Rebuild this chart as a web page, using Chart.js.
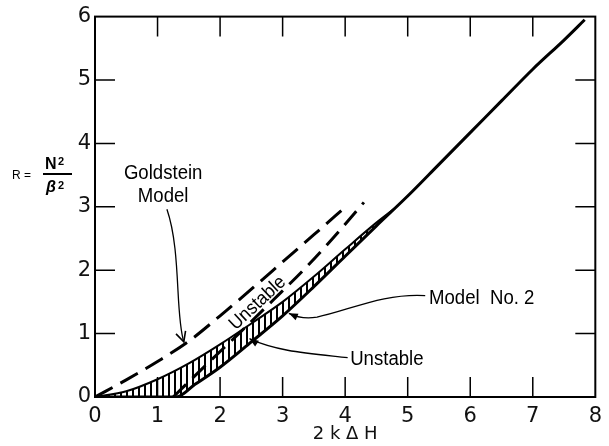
<!DOCTYPE html>
<html>
<head>
<meta charset="utf-8">
<script src="https://cdn.jsdelivr.net/npm/chart.js@4/dist/chart.umd.min.js"></script>
<style>
  html, body { margin: 0; padding: 0; background: #fff; }
  #c { display: block; }
</style>
</head>
<body>
<canvas id="c" width="609" height="446"></canvas>
<script>
// Axis ranges and tick labels
const xTicks = [0, 1, 2, 3, 4, 5, 6, 7, 8];
const yTicks = [0, 1, 2, 3, 4, 5, 6];

// Model No. 2 neutral curve (solid)
const modelX = [0, 1.3, 1.6, 2.0, 2.5, 3.0, 3.5, 4.0, 4.5, 5.0, 5.5, 6.0, 6.5, 7.0, 7.5, 7.83];
const modelR = [0, 0, 0.2, 0.47, 0.87, 1.28, 1.74, 2.22, 2.7, 3.17, 3.67, 4.17, 4.67, 5.17, 5.63, 5.95];

// Upper edge of the hatched unstable band
const bandX = [0, 0.5, 1.0, 1.5, 2.0, 2.5, 3.0, 3.5, 4.0, 4.5, 4.8];
const bandR = [0, 0.09, 0.28, 0.53, 0.83, 1.16, 1.5, 1.9, 2.33, 2.75, 2.98];

// Goldstein model (dashed)
const goldX = [0, 0.5, 1.0, 1.5, 2.0, 2.5, 3.0, 3.5, 4.02];
const goldR = [0, 0.27, 0.56, 0.88, 1.28, 1.7, 2.13, 2.56, 3.01];

// Second dashed boundary
const dash2X = [1.25, 1.77, 2.3, 2.85, 3.35, 3.8, 4.3];
const dash2R = [0, 0.5, 1.0, 1.53, 2.02, 2.5, 3.07];

const pts = (xs, ys) => xs.map((x, i) => ({ x: x, y: ys[i] }));

// Vertical hatching used to fill the unstable band
const pc = document.createElement('canvas');
pc.width = 6; pc.height = 6;
const pg = pc.getContext('2d');
pg.fillStyle = '#000';
pg.fillRect(0, 0, 2, 6);
const hatch = pg.createPattern(pc, 'repeat');

const TEXT_FONT = 'Liberation Sans, Arial, sans-serif';

function condensedText(ctx, str, x, y, size, align, sx) {
  ctx.save();
  ctx.font = size + 'px ' + TEXT_FONT;
  ctx.translate(x, y);
  ctx.scale(sx || 0.93, 1);
  ctx.textAlign = align || 'left';
  ctx.textBaseline = 'alphabetic';
  ctx.fillText(str, 0, 0);
  ctx.restore();
}

function arrowHead(ctx, tipX, tipY, fromX, fromY, len, half, filled) {
  const a = Math.atan2(tipY - fromY, tipX - fromX);
  const bx = tipX - len * Math.cos(a), by = tipY - len * Math.sin(a);
  const nx = -Math.sin(a) * half, ny = Math.cos(a) * half;
  ctx.beginPath();
  ctx.moveTo(bx + nx, by + ny);
  ctx.lineTo(tipX, tipY);
  ctx.lineTo(bx - nx, by - ny);
  if (filled) { ctx.closePath(); ctx.fill(); } else { ctx.stroke(); }
}

// Frame, inward tick marks, axis title and callouts
const decorations = {
  id: 'decorations',
  afterDraw(chart) {
    const { ctx, chartArea: a, scales } = chart;
    const xs = scales.x, ys = scales.y;
    const X = v => xs.getPixelForValue(v);
    const Y = v => ys.getPixelForValue(v);
    ctx.save();
    ctx.strokeStyle = '#000';
    ctx.fillStyle = '#000';

    // frame
    ctx.lineWidth = 2;
    ctx.strokeRect(a.left, a.top, a.right - a.left, a.bottom - a.top);

    // inward ticks on all four sides
    const TL = 20;
    ctx.lineWidth = 1.5;
    ctx.beginPath();
    xs.ticks.forEach(t => {
      if (t.value <= xs.min || t.value >= xs.max) return;
      const px = X(t.value);
      ctx.moveTo(px, a.bottom); ctx.lineTo(px, a.bottom - TL);
      ctx.moveTo(px, a.top); ctx.lineTo(px, a.top + TL);
    });
    ys.ticks.forEach(t => {
      if (t.value <= ys.min || t.value >= ys.max) return;
      const py = Y(t.value);
      ctx.moveTo(a.left, py); ctx.lineTo(a.left + TL, py);
      ctx.moveTo(a.right, py); ctx.lineTo(a.right - TL, py);
    });
    ctx.stroke();

    // y axis title: R = N^2 / beta^2
    ctx.textBaseline = 'middle';
    ctx.textAlign = 'left';
    ctx.font = '12px ' + TEXT_FONT;
    ctx.fillText('R =', 12, 176);
    ctx.textBaseline = 'alphabetic';
    ctx.font = 'bold 16px ' + TEXT_FONT;
    ctx.fillText('N', 45, 169);
    ctx.font = 'bold 11px ' + TEXT_FONT;
    ctx.fillText('2', 58, 165);
    ctx.lineWidth = 2;
    ctx.beginPath(); ctx.moveTo(43, 174); ctx.lineTo(72, 174); ctx.stroke();
    ctx.font = 'italic bold 16px ' + TEXT_FONT;
    ctx.fillText('\u03B2', 46, 192);
    ctx.font = 'bold 11px ' + TEXT_FONT;
    ctx.fillText('2', 58, 189);

    // text labels
    condensedText(ctx, 'Goldstein', X(1.09), Y(3.44), 20, 'center');
    condensedText(ctx, 'Model', X(1.09), Y(3.08), 20, 'center');
    condensedText(ctx, 'Model  No. 2', X(5.34), Y(1.47), 20, 'left');
    condensedText(ctx, 'Unstable', X(4.08), Y(0.5), 20, 'left');

    // rotated label between the dashed curves
    ctx.save();
    ctx.translate(X(2.6), Y(1.48));
    ctx.rotate(-43 * Math.PI / 180);
    ctx.scale(0.93, 1);
    ctx.font = '19px ' + TEXT_FONT;
    ctx.textAlign = 'center';
    ctx.textBaseline = 'middle';
    ctx.fillText('Unstable', 0, 0);
    ctx.restore();

    // callout leaders
    ctx.lineWidth = 1.3;
    // Goldstein
    let sx = X(1.15), sy = Y(2.96);
    let tx = X(1.42), ty = Y(0.87);
    ctx.beginPath();
    ctx.moveTo(sx, sy);
    ctx.bezierCurveTo(X(1.38), Y(2.3), X(1.28), Y(1.3), tx, ty);
    ctx.stroke();
    ctx.lineWidth = 1.6;
    arrowHead(ctx, tx, ty, X(1.33), Y(1.15), 10, 5, false);

    // Model No. 2
    ctx.lineWidth = 1.3;
    sx = X(5.28); sy = Y(1.6);
    tx = X(3.1); ty = Y(1.32);
    ctx.beginPath();
    ctx.moveTo(sx, sy);
    ctx.bezierCurveTo(X(4.6), Y(1.64), X(4.05), Y(1.36), X(3.55), Y(1.26));
    ctx.quadraticCurveTo(X(3.3), Y(1.22), tx, ty);
    ctx.stroke();
    arrowHead(ctx, tx, ty, X(3.3), Y(1.23), 9, 3.5, true);

    // Unstable band
    sx = X(4.04); sy = Y(0.62);
    tx = X(2.47); ty = Y(0.92);
    ctx.beginPath();
    ctx.moveTo(sx, sy);
    ctx.bezierCurveTo(X(3.4), Y(0.69), X(2.9), Y(0.72), tx, ty);
    ctx.stroke();
    arrowHead(ctx, tx, ty, X(2.75), Y(0.74), 9, 3.5, true);

    ctx.restore();
  }
};

const common = { pointRadius: 0, borderColor: '#000', cubicInterpolationMode: 'monotone' };

new Chart(document.getElementById('c'), {
  type: 'line',
  data: {
    datasets: [
      Object.assign({ label: 'Unstable band', data: pts(bandX, bandR), borderWidth: 2,
        fill: { target: 1 }, backgroundColor: hatch }, common),
      Object.assign({ label: 'Model No. 2', data: pts(modelX, modelR), borderWidth: 3, fill: false }, common),
      Object.assign({ label: 'Goldstein Model', data: pts(goldX, goldR), borderWidth: 3,
        borderDash: [20, 9], fill: false }, common),
      Object.assign({ label: 'Goldstein boundary', data: pts(dash2X, dash2R), borderWidth: 3,
        borderDash: [18, 9], fill: false }, common)
    ]
  },
  options: {
    responsive: false,
    animation: false,
    devicePixelRatio: 1,
    layout: { padding: { top: 14, right: 8, left: 0, bottom: 0 } },
    plugins: { legend: { display: false }, tooltip: { enabled: false } },
    scales: {
      x: {
        type: 'linear', min: 0, max: 8,
        afterBuildTicks: s => { s.ticks = xTicks.map(v => ({ value: v })); },
        afterFit: s => { s.height = 49; },
        grid: { display: false, drawTicks: false },
        border: { display: false },
        ticks: { font: { family: 'DejaVu Sans', size: 21 }, color: '#111', padding: 7 },
        title: { display: true, text: '2 k \u0394 H', color: '#111',
          font: { family: 'DejaVu Sans', size: 18 }, padding: { top: 0, bottom: 1 } }
      },
      y: {
        type: 'linear', min: 0, max: 6,
        afterBuildTicks: s => { s.ticks = yTicks.map(v => ({ value: v })); },
        afterFit: s => { s.width = 95; },
        grid: { display: false, drawTicks: false },
        border: { display: false },
        ticks: { font: { family: 'DejaVu Sans', size: 21 }, color: '#111', padding: 4 }
      }
    }
  },
  plugins: [decorations]
});
</script>
</body>
</html>
